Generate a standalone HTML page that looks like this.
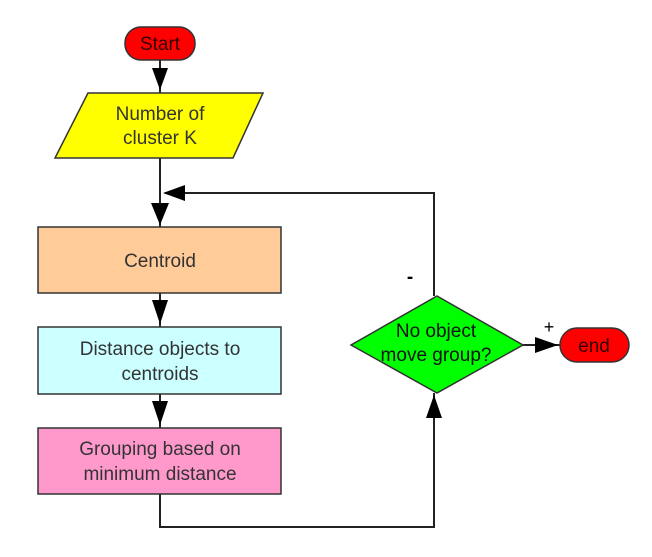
<!DOCTYPE html>
<html><head><meta charset="utf-8"><style>
html,body{margin:0;padding:0;background:#fff;}
svg{display:block;}
text{font-family:"Liberation Sans",sans-serif;font-size:19px;fill:#333;}
</style></head><body>
<svg width="652" height="557" viewBox="0 0 652 557" xmlns="http://www.w3.org/2000/svg">
<g stroke="#222" stroke-width="2" fill="none">
<line x1="160" y1="60" x2="160" y2="93"/>
<line x1="160" y1="158" x2="160" y2="227"/>
<polyline points="434,296 434,193 165,193"/>
<line x1="160" y1="293" x2="160" y2="327"/>
<line x1="160" y1="394" x2="160" y2="428"/>
<polyline points="160,494 160,527 434,527 434,393"/>
<line x1="523" y1="345" x2="560" y2="345"/>
</g>
<g fill="#000">
<polygon points="152,68 168,68 160,90"/>
<polygon points="151,203 169,203 160,225"/>
<polygon points="163,193 185,185 185,201"/>
<polygon points="152,300 168,300 160,324"/>
<polygon points="152,401 168,401 160,425"/>
<polygon points="426,418 442,418 434,395"/>
<polygon points="535,337 535,353 558,345"/>
</g>
<rect x="125" y="27" width="70" height="33" rx="16" fill="#ff0000" stroke="#333" stroke-width="1.5"/>
<text x="160" y="50" text-anchor="middle" style="fill:#300">Start</text>
<polygon points="88,93 263,93 233,158 55,158" fill="#ffff00" stroke="#333" stroke-width="1.5"/>
<text x="160" y="120" text-anchor="middle">Number of</text>
<text x="160" y="144" text-anchor="middle">cluster K</text>
<rect x="38" y="227" width="243" height="66" fill="#ffcc99" stroke="#333" stroke-width="1.5"/>
<text x="160" y="267" text-anchor="middle">Centroid</text>
<rect x="38" y="327" width="243" height="67" fill="#ccffff" stroke="#333" stroke-width="1.5"/>
<text x="160" y="355" text-anchor="middle">Distance objects to</text>
<text x="160" y="380" text-anchor="middle">centroids</text>
<rect x="38" y="428" width="243" height="66" fill="#ff99cc" stroke="#333" stroke-width="1.5"/>
<text x="160" y="455" text-anchor="middle">Grouping based on</text>
<text x="160" y="480" text-anchor="middle">minimum distance</text>
<polygon points="437,296 523,345 437,393 351,345" fill="#00ff00" stroke="#333" stroke-width="1.5"/>
<text x="436" y="337" text-anchor="middle" style="fill:#111">No object</text>
<text x="436" y="361" text-anchor="middle" style="fill:#111">move group?</text>
<rect x="560" y="328" width="69" height="34" rx="17" fill="#ff0000" stroke="#333" stroke-width="1.5"/>
<text x="594" y="352" text-anchor="middle" style="fill:#300">end</text>
<text x="410" y="283" text-anchor="middle" style="font-weight:bold;fill:#000">-</text>
<text x="549" y="333" text-anchor="middle" style="font-size:18px;fill:#000">+</text>
</svg>
</body></html>
